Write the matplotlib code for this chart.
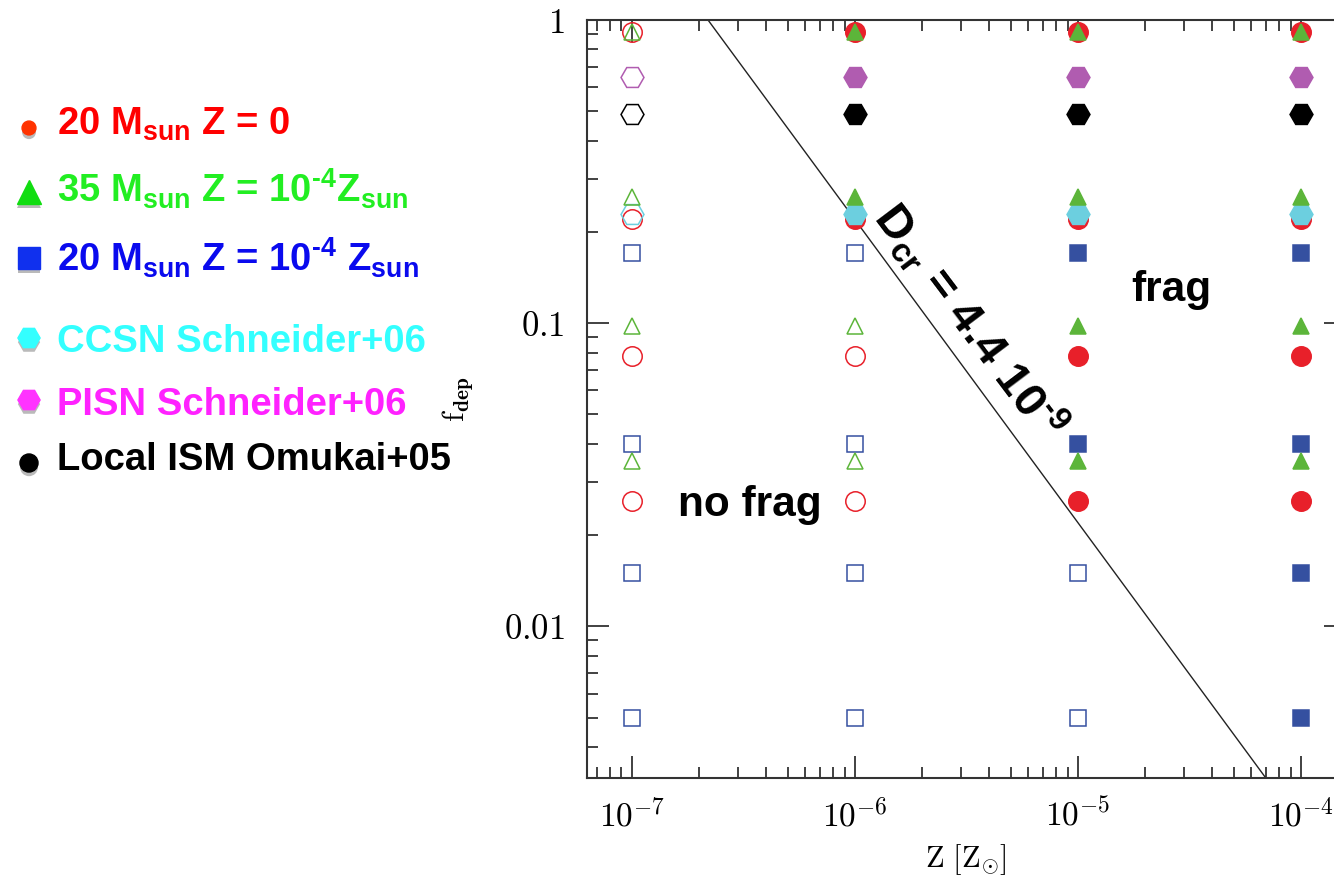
import numpy as np
import matplotlib
matplotlib.use("Agg")
import matplotlib.pyplot as plt
import matplotlib.patheffects as pe
from matplotlib.ticker import LogLocator, NullFormatter

plt.rcParams['font.family'] = ['Liberation Sans', 'DejaVu Sans']
plt.rcParams['font.weight'] = 'bold'
plt.rcParams['mathtext.fontset'] = 'custom'
plt.rcParams['mathtext.rm'] = 'Liberation Sans:bold'
plt.rcParams['mathtext.bf'] = 'Liberation Sans:bold'
plt.rcParams['mathtext.it'] = 'Liberation Sans:bold'

# metallicity grid (Z_sun) and depletion factors of each model
Z_grid = [1e-7, 1e-6, 1e-5, 1e-4]
f_red = [0.91, 0.22, 0.078, 0.026]      # 20 Msun Z=0
f_green = [0.91, 0.26, 0.098, 0.035]    # 35 Msun Z=1e-4
f_blue = [0.17, 0.040, 0.015, 0.005]    # 20 Msun Z=1e-4
f_cyan = [0.23]                         # CCSN Schneider+06
f_magenta = [0.65]                      # PISN Schneider+06
f_black = [0.49]                        # local ISM Omukai+05

D_cr = 4.4e-9
dust_to_metal = 0.02

legend_labels = [
    r'20 M$_{\rm sun}$ Z = 0',
    r'35 M$_{\rm sun}$ Z = 10$^{\text{-4}}$Z$_{\rm sun}$',
    r'20 M$_{\rm sun}$ Z = 10$^{\text{-4}}$ Z$_{\rm sun}$',
    'CCSN Schneider+06',
    'PISN Schneider+06',
    'Local ISM Omukai+05',
]
xtick_vals = [1e-7, 1e-6, 1e-5, 1e-4]
xtick_labels = [r'$10^{-7}$', r'$10^{-6}$', r'$10^{-5}$', r'$10^{-4}$']
ytick_vals = [0.01, 0.1, 1]
ytick_labels = [r'$0.01$', r'$0.1$', r'$1$']

W, H = 1334, 875
fig = plt.figure(figsize=(W / 100, H / 100), dpi=100)
ax = fig.add_axes([587 / W, 1 - 778 / H, (1345.6 - 587) / W, (778 - 20) / H])
ax.set_xscale('log')
ax.set_yscale('log')
ax.set_xlim(10 ** -7.2, 10 ** -3.8)
ax.set_ylim(10 ** -2.5, 1)

# critical dust-to-gas line
zl = np.array(ax.get_xlim())
ax.plot(zl, D_cr / (dust_to_metal * zl), color='#222222', lw=1.0, zorder=2)


def plot_set(fvals, marker, color, ms, mew=1.1):
    # every model is computed at every metallicity; filled = above D_cr
    for z in Z_grid:
        for f in fvals:
            filled = f * z * dust_to_metal >= D_cr * 0.97
            ax.plot([z], [f], marker=marker, ms=ms, ls='none', color=color,
                    mfc=color if filled else 'none', mec=color, mew=mew, zorder=3)


plot_set(f_red, 'o', '#e8202a', 14)
plot_set(f_blue, 's', '#3550a0', 11.5)
plot_set(f_cyan, 'H', '#6ccfdf', 16.5)
plot_set(f_magenta, 'H', '#b05cb0', 16.5)
plot_set(f_black, 'H', '#000000', 16.5)
plot_set(f_green, '^', '#5cb53a', 12)

for sp in ax.spines.values():
    sp.set_linewidth(1.5)
    sp.set_color('#333333')
ax.xaxis.set_minor_locator(LogLocator(base=10, subs=np.arange(2, 10), numticks=20))
ax.yaxis.set_minor_locator(LogLocator(base=10, subs=np.arange(2, 10), numticks=20))
ax.set_xticks(xtick_vals, labels=xtick_labels, fontsize=24, math_fontfamily='cm')
ax.set_yticks(ytick_vals, labels=ytick_labels, fontsize=25, math_fontfamily='cm')
ax.xaxis.set_minor_formatter(NullFormatter())
ax.yaxis.set_minor_formatter(NullFormatter())
ax.tick_params(which='both', direction='in', top=True, right=True, color='#333333', width=1.3)
ax.tick_params(which='major', length=16)
ax.tick_params(which='minor', length=8)
ax.tick_params(axis='x', pad=15)
ax.tick_params(axis='y', pad=16)

ax.set_xlabel(r'$\mathrm{Z\ [Z_{\odot}]}$', fontsize=22, math_fontfamily='cm')
ax.xaxis.set_label_coords(0.5, -0.084)
ax.set_ylabel(r'$\mathrm{f}_{\mathbf{dep}}$', fontsize=22, math_fontfamily='cm')
ax.yaxis.set_label_coords(-0.147, 0.5)

ax.text(10 ** -6.79, 10 ** -1.6, 'no frag', fontsize=30.5, fontweight='bold', va='center')
ax.text(10 ** -4.76, 10 ** -0.89, 'frag', fontsize=30.5, fontweight='bold', va='center')
ax.text(10 ** -5.483, 10 ** -0.993, r'D$_{\rm cr}$ = 4.4 10$^{\text{-9}}$', fontsize=34,
        fontweight='bold', rotation=-53, rotation_mode='anchor', ha='center', va='center')

# hand-made legend on the left, in pixel coordinates
lax = fig.add_axes([0, 0, 1, 1])
lax.set_xlim(0, W)
lax.set_ylim(H, 0)
lax.axis('off')
leg_markers = ['o', '^', 's', 'H', 'H', 'o']
leg_colors = ['#ff3300', '#11dd11', '#1030ee', '#33ffff', '#ff33ff', '#000000']
leg_text_colors = ['#ff0000', '#22ee22', '#0a0aee', '#33ffff', '#ff22ff', '#000000']
leg_sizes = [10, 17, 16, 16, 16, 13]
leg_mark_y = [128, 192, 258, 338, 400, 463]
leg_text_y = [135, 203, 272, 352, 415, 470]
shadow = [pe.SimplePatchShadow(offset=(0, -3), shadow_rgbFace='#777777', alpha=0.5), pe.Normal()]
for lab, m, c, tc, s, my, ty in zip(legend_labels, leg_markers, leg_colors, leg_text_colors,
                                     leg_sizes, leg_mark_y, leg_text_y):
    lax.plot([29], [my], marker=m, ms=s, color=c, ls='none', path_effects=shadow)
    lax.text(57, ty, lab, color=tc, fontsize=27.5, fontweight='bold', va='baseline', ha='left')

fig.savefig('out.png', dpi=100)
